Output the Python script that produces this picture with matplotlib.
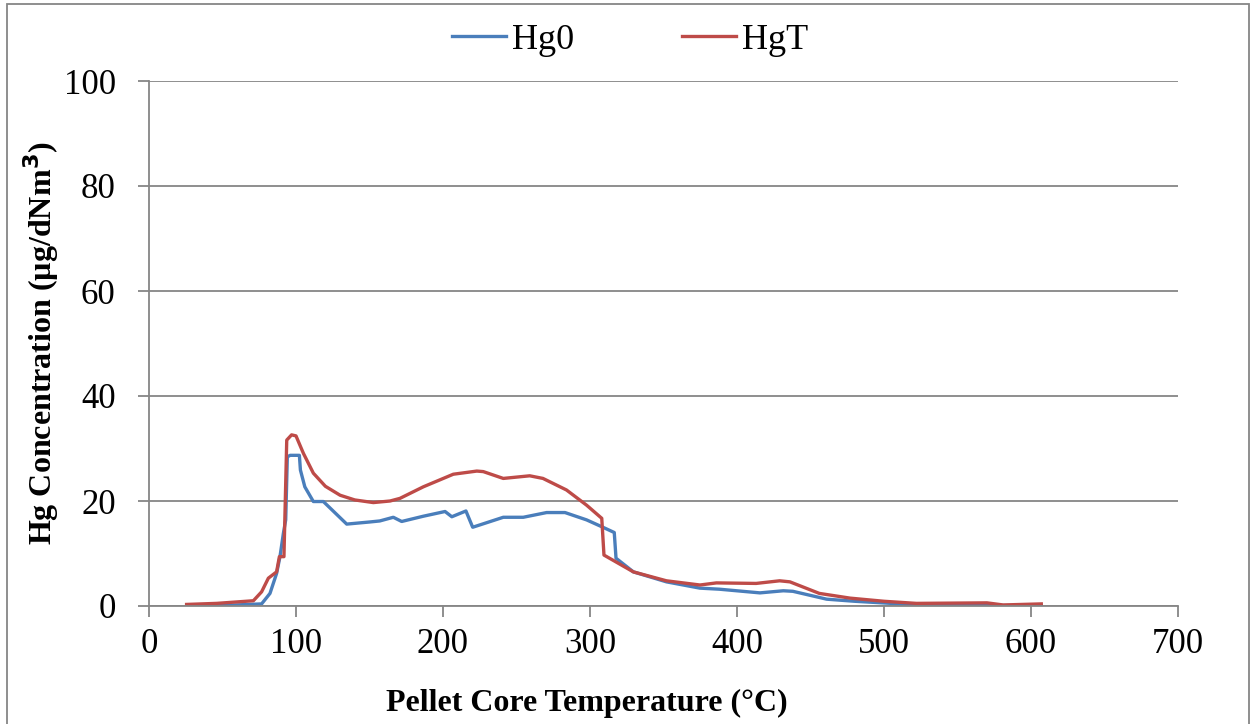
import matplotlib
matplotlib.use("Agg")
import matplotlib.pyplot as plt
from matplotlib.patches import Rectangle

# Hg0 series (temperature °C, concentration µg/dNm3)
hg0_t = [25.6, 50, 76.6, 82.3, 86.8, 89.1, 91.4, 93.0, 94.1, 96, 100, 102.3, 103, 106, 111.8,
         118.6, 134.5, 150, 157, 166.2, 171.9, 186.6, 201.4, 206, 215.6, 220.2, 241, 254.6,
         270.5, 283, 297.7, 308, 316.5, 317.7, 329.5, 352, 374.8, 388, 415.6, 431.5, 438,
         461, 480, 511, 579, 607]
hg0_c = [0.0, 0.1, 0.4, 2.4, 6.2, 9.4, 13.8, 16.4, 28.4, 28.7, 28.7, 28.7, 25.9, 22.7, 19.9,
         19.9, 15.6, 16.0, 16.2, 16.9, 16.1, 17.1, 18.0, 17.0, 18.1, 15.0, 16.9, 16.9,
         17.8, 17.8, 16.4, 15.1, 14.0, 9.1, 6.5, 4.6, 3.4, 3.2, 2.5, 2.9, 2.8,
         1.3, 0.9, 0.4, 0.1, 0.05]

# HgT series
hgt_t = [25.6, 46, 71, 76.6, 81.2, 86.8, 88.7, 91.8, 93.7, 97, 100, 105, 111.8, 120, 130, 140,
         152.6, 164, 170.7, 186.6, 207, 223, 227.4, 241, 259, 268, 284, 297.7, 308, 309.5,
         329.5, 352, 374.8, 386, 413, 429, 436, 446, 456, 476.9, 500, 522, 570, 581, 607]
hgt_c = [0.3, 0.5, 1.0, 2.7, 5.3, 6.5, 9.4, 9.4, 31.6, 32.6, 32.4, 29.1, 25.3, 22.8, 21.1, 20.2,
         19.7, 20.0, 20.5, 22.7, 25.1, 25.7, 25.6, 24.3, 24.8, 24.3, 22.1, 19.2, 16.7, 9.7,
         6.5, 4.8, 4.0, 4.4, 4.3, 4.8, 4.6, 3.5, 2.4, 1.5, 0.9, 0.5, 0.6, 0.2, 0.4]

x_ticks = [0, 100, 200, 300, 400, 500, 600, 700]
y_ticks = [0, 20, 40, 60, 80, 100]

plt.rcParams['font.family'] = ['Liberation Serif', 'DejaVu Serif']

fig = plt.figure(figsize=(12.53, 7.24), dpi=100)
ax = fig.add_axes([149/1253, 1 - 606/724, (1178 - 149)/1253, (606 - 81)/724])

ax.plot(hg0_t, hg0_c, color='#4A7EBB', lw=2.4, label='Hg0', solid_joinstyle='round')
ax.plot(hgt_t, hgt_c, color='#BE4B48', lw=2.4, label='HgT', solid_joinstyle='round')

ax.set_xlim(0, 700)
ax.set_ylim(0, 100)
ax.set_xticks(x_ticks)
ax.set_yticks(y_ticks)
ax.tick_params(axis='both', labelsize=25, color='#868686', length=8, width=1.3, direction='out')
ax.tick_params(axis='x', pad=8)
ax.tick_params(axis='y', pad=16)
ax.yaxis.grid(True, color='#868686', lw=1.3)
ax.set_axisbelow(True)
for s in ['top', 'right']:
    ax.spines[s].set_visible(False)
for s in ['left', 'bottom']:
    ax.spines[s].set_color('#868686')
    ax.spines[s].set_linewidth(1.3)

ax.set_xlabel('Pellet Core Temperature (°C)', fontsize=23, fontweight='bold')
ax.xaxis.set_label_coords(0.4257, -0.158)
ax.set_ylabel('Hg Concentration (µg/dNm$^\\mathbf{3}$)', fontsize=23, fontweight='bold', labelpad=2)

leg = ax.legend(loc='center', bbox_to_anchor=(630/1253, 1 - 40/724), bbox_transform=fig.transFigure,
                ncol=2, frameon=False, fontsize=26, handlelength=1.5, columnspacing=3.0,
                handletextpad=0.15)

fig.patches.append(Rectangle((7/1253, -0.01), 1242/1253, 1.01 - 4/724, transform=fig.transFigure,
                             fill=False, edgecolor='#868686', lw=1.3))

fig.savefig('out.png', dpi=100)
